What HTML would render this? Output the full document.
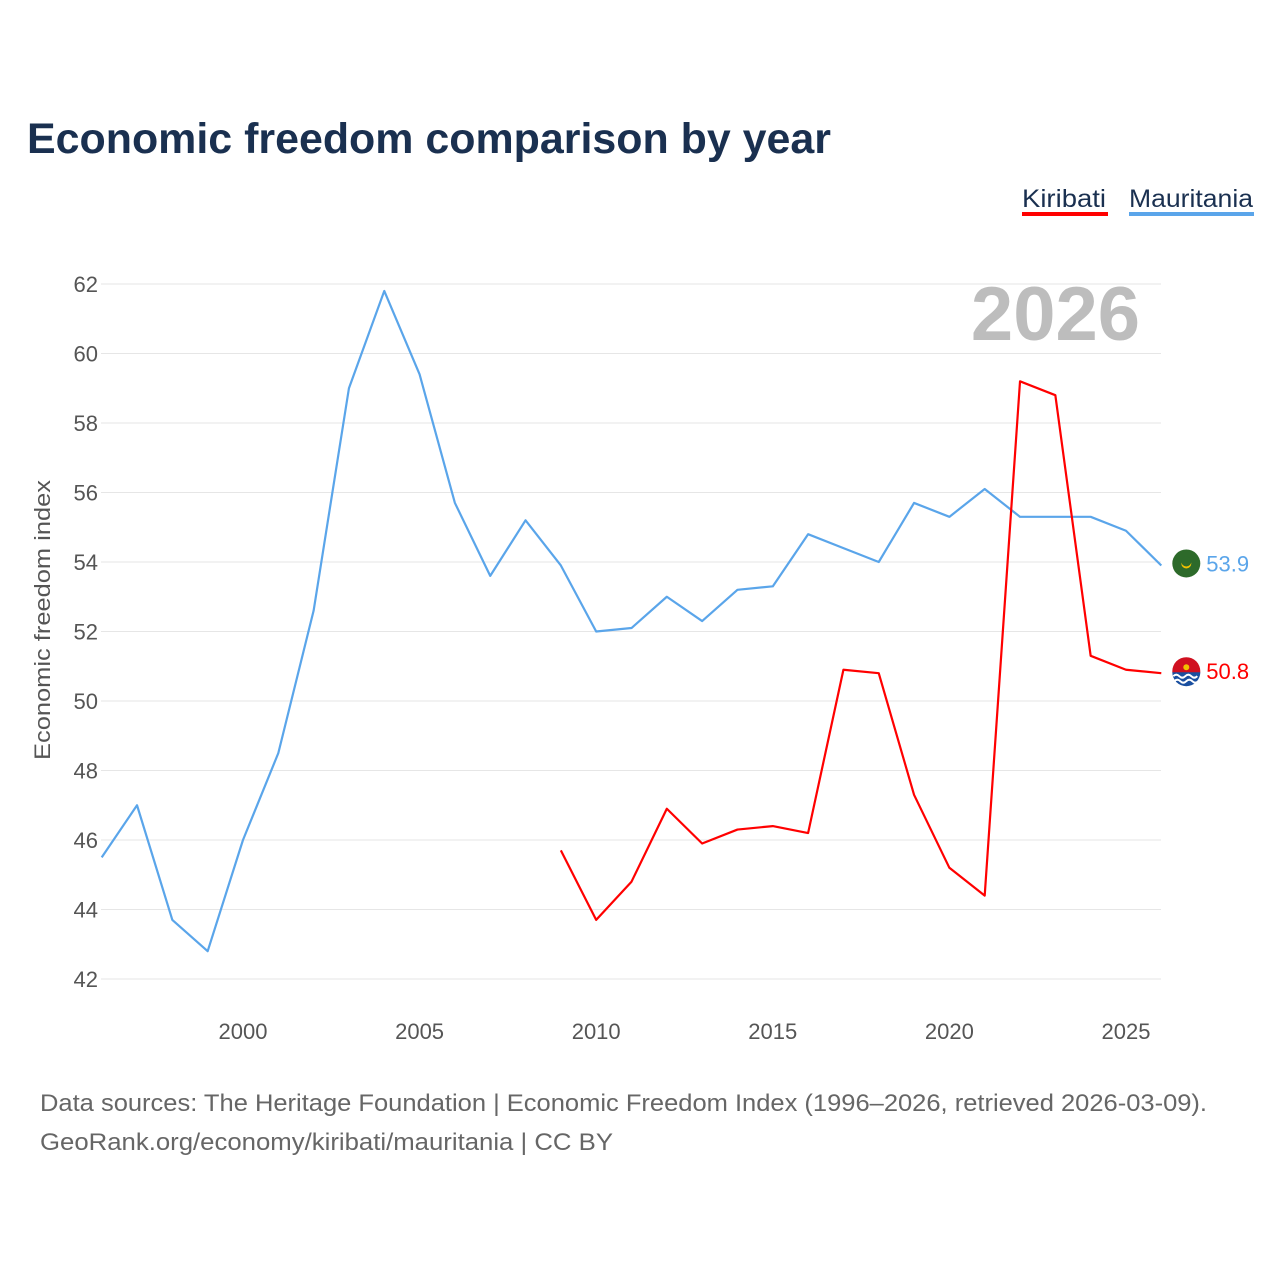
<!DOCTYPE html>
<html><head><meta charset="utf-8">
<style>
body{margin:0;background:#fff;font-family:"Liberation Sans",sans-serif;}
#wrap{position:relative;width:1280px;height:1280px;overflow:hidden;}
</style></head>
<body>
<div id="wrap">
<svg id="chart" width="1280" height="1280">
<text x="27" y="153" font-size="43" font-weight="bold" fill="#1a3050" textLength="804" lengthAdjust="spacingAndGlyphs">Economic freedom comparison by year</text>
<g>
<text x="1022" y="207" font-size="25" fill="#1a3050" textLength="84" lengthAdjust="spacingAndGlyphs">Kiribati</text>
<rect x="1022" y="212" width="86" height="4" fill="#ff0000"/>
<text x="1129" y="207" font-size="25" fill="#1a3050" textLength="124" lengthAdjust="spacingAndGlyphs">Mauritania</text>
<rect x="1129" y="212" width="125" height="4" fill="#5aa5ea"/>
</g>
<text x="1140" y="340" font-size="76" font-weight="bold" fill="#bdbdbd" text-anchor="end">2026</text>
<text transform="translate(50,620) rotate(-90)" font-size="22" fill="#555" text-anchor="middle" textLength="280" lengthAdjust="spacingAndGlyphs">Economic freedom index</text>
<g id="grid"></g><g id="series"></g>
<text x="40" y="1111" font-size="24" fill="#666" textLength="1167" lengthAdjust="spacingAndGlyphs">Data sources: The Heritage Foundation | Economic Freedom Index (1996–2026, retrieved 2026-03-09).</text>
<text x="40" y="1150" font-size="24" fill="#666" textLength="573" lengthAdjust="spacingAndGlyphs">GeoRank.org/economy/kiribati/mauritania | CC BY</text>
</svg>
</div>
<script>
const yTicks=[42,44,46,48,50,52,54,56,58,60,62];
const xTicks=[2000,2005,2010,2015,2020,2025];
const mauYears=[1996,1997,1998,1999,2000,2001,2002,2003,2004,2005,2006,2007,2008,2009,2010,2011,2012,2013,2014,2015,2016,2017,2018,2019,2020,2021,2022,2023,2024,2025,2026];
const mauValues=[45.5,47.0,43.7,42.8,46.0,48.5,52.6,59.0,61.8,59.4,55.7,53.6,55.2,53.9,52.0,52.1,53.0,52.3,53.2,53.3,54.8,54.4,54.0,55.7,55.3,56.1,55.3,55.3,55.3,54.9,53.9];
const kirYears=[2009,2010,2011,2012,2013,2014,2015,2016,2017,2018,2019,2020,2021,2022,2023,2024,2025,2026];
const kirValues=[45.7,43.7,44.8,46.9,45.9,46.3,46.4,46.2,50.9,50.8,47.3,45.2,44.4,59.2,58.8,51.3,50.9,50.8];
const NS="http://www.w3.org/2000/svg";
const xS=v=>101.7+(v-1996)*35.32;
const yS=v=>284+(62-v)*34.75;
const grid=document.getElementById('grid'),ser=document.getElementById('series');
function mk(tag,a,parent){const e=document.createElementNS(NS,tag);for(const k in a)e.setAttribute(k,a[k]);parent.appendChild(e);return e;}
yTicks.forEach(t=>{
 const l=mk('line',{x1:101,x2:1161,y1:yS(t),y2:yS(t),stroke:'#e6e6e6','stroke-width':1},grid);
 
 
 const tx=mk('text',{x:98,y:yS(t)+8,'font-size':22,fill:'#555','text-anchor':'end'},grid);
 tx.textContent=t;
 
 
});
xTicks.forEach(t=>{
 const tx=mk('text',{x:xS(t),y:1039,'font-size':22,fill:'#555','text-anchor':'middle'},grid);
 tx.textContent=t;
 
 
});
function line(ys,vs,color,name){
 const p=mk('polyline',{points:ys.map((y,i)=>xS(y)+','+yS(vs[i])).join(' '),fill:'none',stroke:color,'stroke-width':2.2,'stroke-linejoin':'round'},ser);
 
 
}
line(mauYears,mauValues,'#5aa5ea','mauritania');
line(kirYears,kirValues,'#ff0000','kiribati');
function endLabel(ys,vs,color,name,flag){
 const v=vs[vs.length-1],cx=xS(ys[ys.length-1])+25,cy=yS(v)-2;
 const g=mk('g',{},ser);
 
 
 if(flag==='mau'){
  mk('circle',{cx:cx,cy:cy,r:14,fill:'#2d6a2a'},g);
  mk('circle',{cx:cx,cy:cy,r:5,fill:'#f0c000'},g);
  mk('circle',{cx:cx,cy:cy-2,r:5,fill:'#2d6a2a'},g);
 }else{
  mk('circle',{cx:cx,cy:cy,r:14,fill:'#d01020'},g);
  mk('path',{d:`M${cx-14} ${cy+1} A14 14 0 0 0 ${cx+14} ${cy+1} Z`,fill:'#1a4fa0'},g);
  mk('path',{d:`M${cx-13} ${cy+5} q3 -3 6 0 t6 0 t6 0 t6 0 M${cx-12} ${cy+10} q3 -3 6 0 t6 0 t6 0 t6 0`,fill:'none',stroke:'#fff','stroke-width':2},g);
  mk('circle',{cx:cx,cy:cy-4,r:3,fill:'#f0c000'},g);
 }
 const t=mk('text',{x:cx+20,y:cy+8,'font-size':22,fill:color},g);
 t.textContent=v.toFixed(1);
}
endLabel(mauYears,mauValues,'#5aa5ea','mauritania','mau');
endLabel(kirYears,kirValues,'#ff0000','kiribati','kir');
</script>
</body></html>
